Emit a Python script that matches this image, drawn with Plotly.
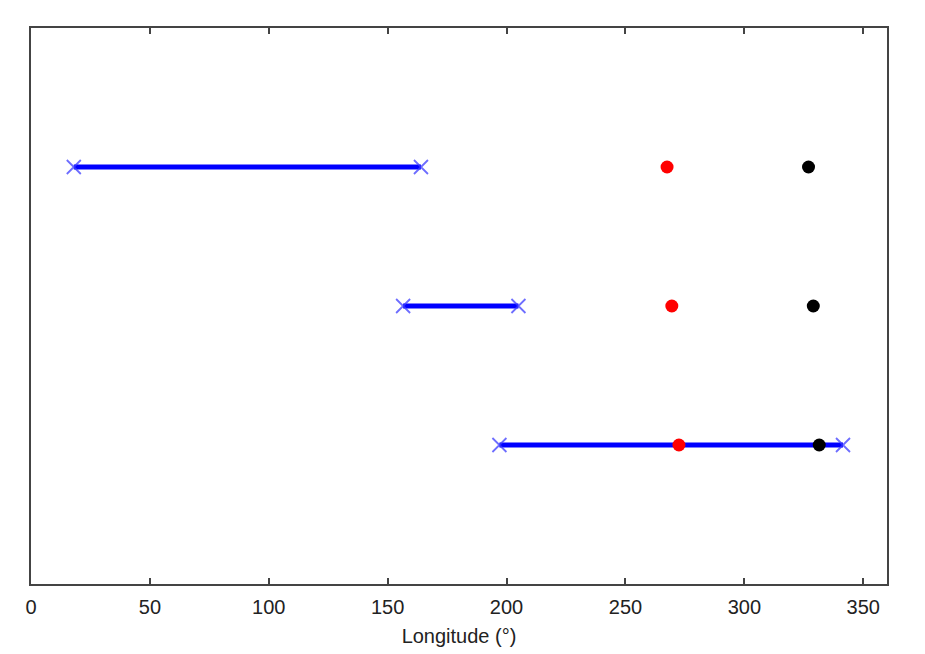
import plotly.graph_objects as go

# one row per case, top to bottom
rows = [3, 2, 1]
range_start = [18.0, 156.5, 197.0]
range_end = [164.0, 205.0, 341.5]
red_lon = [267.5, 269.5, 272.5]
black_lon = [327.0, 329.0, 331.5]

fig = go.Figure()

# blue ranges with x end markers
for y, a, b in zip(rows, range_start, range_end):
    fig.add_trace(go.Scatter(
        x=[a, b], y=[y, y], mode="lines",
        line=dict(color="#0000ff", width=5), showlegend=False, hoverinfo="skip"))
    fig.add_trace(go.Scatter(
        x=[a, b], y=[y, y], mode="markers",
        marker=dict(symbol="x-thin", size=14, line=dict(color="rgba(60,60,255,0.75)", width=1.8)),
        showlegend=False))

fig.add_trace(go.Scatter(
    x=red_lon, y=rows, mode="markers",
    marker=dict(color="#ff0000", size=13), showlegend=False))
fig.add_trace(go.Scatter(
    x=black_lon, y=rows, mode="markers",
    marker=dict(color="#000000", size=13), showlegend=False))

fig.update_layout(
    width=925, height=654,
    margin=dict(l=23, r=46, t=20, b=78),
    plot_bgcolor="white", paper_bgcolor="white",
    font=dict(family="Liberation Sans, Arial, sans-serif", color="#222"),
)
fig.update_xaxes(
    range=[0, 360], tickvals=[0, 50, 100, 150, 200, 250, 300, 350],
    ticks="inside", ticklen=6, tickwidth=1.5, tickcolor="#444",
    showline=True, linecolor="#444", linewidth=1.5, mirror="ticks",
    showgrid=False, zeroline=False, tickfont=dict(size=20),
    ticklabelstandoff=4,
    title=dict(text="Longitude (°)", font=dict(size=20), standoff=12),
)
fig.update_yaxes(
    range=[0, 4], showticklabels=False, ticks="",
    showline=True, linecolor="#444", linewidth=1.5, mirror=True,
    showgrid=False, zeroline=False,
)

fig.write_html("out.html")
